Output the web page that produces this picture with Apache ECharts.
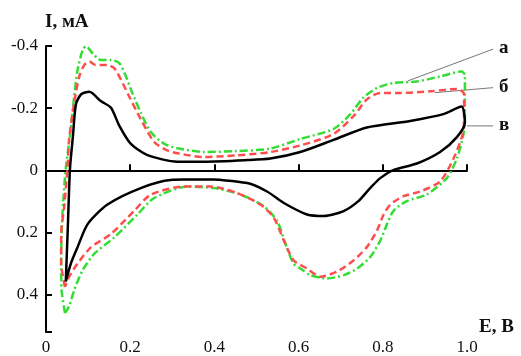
<!DOCTYPE html>
<html><head><meta charset="utf-8">
<script src="https://cdn.jsdelivr.net/npm/echarts@6/dist/echarts.min.js"></script>
<style>html,body{margin:0;padding:0;background:#fff}#c{width:521px;height:356px}</style>
</head><body><div id="c"></div><script>
// X tick labels and Y tick labels
var xTicks = [0, 0.2, 0.4, 0.6, 0.8, 1.0];
var yTicks = [-0.4, -0.2, 0, 0.2, 0.4];

// Curve "а" (green dash-dot)
var aE = [0.045,0.037,0.036,0.037,0.041,0.047,0.059,0.067,0.075,0.087,0.095,0.111,0.130,0.154,0.174,0.190,0.205,0.225,0.249,0.280,0.316,0.375,0.45,0.533,0.604,0.683,0.723,0.754,0.786,0.825,0.881,0.936,0.987,0.995,0.995,0.995,0.991,0.976,0.952,0.904,0.857,0.825,0.810,0.794,0.770,0.739,0.707,0.668,0.628,0.604,0.588,0.569,0.549,0.517,0.462,0.399,0.336,0.257,0.217,0.162,0.115,0.087,0.067,0.055,0.045];
var aI = [0.459,0.385,0.311,0.2,0.1,-0.006,-0.133,-0.239,-0.323,-0.387,-0.399,-0.376,-0.355,-0.355,-0.345,-0.302,-0.249,-0.186,-0.123,-0.086,-0.070,-0.059,-0.062,-0.070,-0.101,-0.133,-0.181,-0.234,-0.265,-0.281,-0.286,-0.302,-0.318,-0.307,-0.228,-0.165,-0.112,-0.038,0.025,0.078,0.099,0.131,0.173,0.226,0.279,0.316,0.337,0.348,0.337,0.316,0.300,0.237,0.163,0.115,0.078,0.057,0.052,0.089,0.142,0.216,0.268,0.321,0.385,0.437,0.459];

// Curve "б" (red dashed)
var bE = [0.045,0.036,0.036,0.043,0.051,0.055,0.067,0.079,0.091,0.103,0.118,0.146,0.162,0.178,0.197,0.225,0.257,0.288,0.316,0.375,0.45,0.533,0.604,0.683,0.731,0.762,0.794,0.841,0.920,0.976,0.993,0.993,0.991,0.968,0.936,0.889,0.849,0.818,0.802,0.786,0.762,0.731,0.691,0.652,0.620,0.588,0.565,0.541,0.509,0.454,0.391,0.328,0.249,0.209,0.154,0.107,0.075,0.055,0.045];
var bI = [0.375,0.300,0.205,0.120,-0.006,-0.101,-0.218,-0.302,-0.339,-0.350,-0.339,-0.339,-0.329,-0.292,-0.239,-0.165,-0.091,-0.064,-0.054,-0.043,-0.048,-0.059,-0.080,-0.117,-0.175,-0.228,-0.249,-0.249,-0.255,-0.262,-0.245,-0.175,-0.123,-0.038,0.036,0.068,0.083,0.110,0.142,0.194,0.247,0.289,0.326,0.342,0.316,0.289,0.226,0.152,0.110,0.073,0.052,0.052,0.078,0.131,0.205,0.247,0.300,0.342,0.375];

// Curve "в" (black solid)
var cE = [0.047,0.052,0.057,0.064,0.071,0.083,0.103,0.130,0.154,0.174,0.201,0.241,0.312,0.375,0.478,0.533,0.604,0.683,0.762,0.865,0.944,0.987,0.995,0.976,0.936,0.881,0.825,0.794,0.770,0.742,0.707,0.660,0.620,0.565,0.525,0.478,0.375,0.296,0.225,0.146,0.099,0.075,0.059,0.047];
var cI = [0.358,0.176,-0.006,-0.110,-0.212,-0.244,-0.253,-0.223,-0.202,-0.144,-0.086,-0.049,-0.028,-0.028,-0.033,-0.038,-0.059,-0.098,-0.138,-0.159,-0.181,-0.205,-0.154,-0.107,-0.059,-0.022,-0.001,0.025,0.057,0.099,0.131,0.147,0.142,0.105,0.068,0.041,0.029,0.031,0.057,0.110,0.173,0.247,0.300,0.358];

// Series labels and their leader lines (data coordinates)
var curveLabels = ['а', 'б', 'в'];
var leaderFrom = [[1.062, -0.390], [1.062, -0.266], [1.062, -0.143]];
var leaderTo = [[0.860, -0.288], [0.924, -0.250], [1.000, -0.143]];

function pairs(e, i) { return e.map(function (v, k) { return [v, i[k]]; }); }

var serif = '"Liberation Serif","Times New Roman",serif';
var chart = echarts.init(document.getElementById('c'), null, {renderer: 'canvas'});

chart.setOption({
  animation: false,
  backgroundColor: '#fff',
  grid: {left: 46, right: 54, top: 46, bottom: 19, containLabel: false},
  xAxis: {
    type: 'value', min: 0, max: 1.0, interval: 0.2,
    axisLine: {lineStyle: {color: '#000', width: 2}},
    axisTick: {inside: true, length: 6, lineStyle: {color: '#000', width: 2}},
    axisLabel: {
      color: '#111', fontFamily: serif, fontSize: 17, margin: 7,
      formatter: function (v) {
        var r = Math.round(v * 10) / 10;
        for (var k = 0; k < xTicks.length; k++) if (Math.abs(xTicks[k] - r) < 1e-6) return r === 1 ? '1.0' : String(r);
        return '';
      }
    },
    splitLine: {show: false}
  },
  yAxis: {
    type: 'value', inverse: true, min: -0.4, max: 0.52, interval: 0.2,
    axisLine: {lineStyle: {color: '#000', width: 2}},
    axisTick: {inside: true, length: 6, lineStyle: {color: '#000', width: 2}},
    axisLabel: {
      color: '#111', fontFamily: serif, fontSize: 17, margin: 8,
      formatter: function (v) {
        var r = Math.round(v * 10) / 10;
        if (Math.abs(v - r) > 1e-6) return '';
        for (var k = 0; k < yTicks.length; k++) if (Math.abs(yTicks[k] - r) < 1e-6) return String(r);
        return '';
      }
    },
    splitLine: {show: false}
  },
  series: [
    {type: 'line', name: 'а', data: pairs(aE, aI), showSymbol: false, smooth: 0.25,
     lineStyle: {color: '#33dd33', width: 2.5, type: [8, 3, 2, 3]}},
    {type: 'line', name: 'б', data: pairs(bE, bI), showSymbol: false, smooth: 0.25,
     lineStyle: {color: '#ff4d4d', width: 2.5, type: [7, 4]}},
    {type: 'line', name: 'в', data: pairs(cE, cI), showSymbol: false, smooth: 0.25,
     lineStyle: {color: '#000', width: 2.5, type: 'solid'}}
  ]
});

var g = [];
for (var k = 0; k < curveLabels.length; k++) {
  var p1 = chart.convertToPixel({gridIndex: 0}, leaderFrom[k]);
  var p2 = chart.convertToPixel({gridIndex: 0}, leaderTo[k]);
  g.push({type: 'line', shape: {x1: p1[0], y1: p1[1], x2: p2[0], y2: p2[1]}, style: {stroke: '#777', lineWidth: 1}});
  g.push({type: 'text', x: p1[0] + 6, y: p1[1] - 1, style: {text: curveLabels[k], font: 'bold 19px ' + serif, fill: '#111', align: 'left', verticalAlign: 'middle'}});
}
g.push({type: 'text', x: 45, y: 22, style: {text: 'I, мА', font: 'bold 19px ' + serif, fill: '#111', align: 'left', verticalAlign: 'middle'}});
g.push({type: 'text', x: 479, y: 327, style: {text: 'E, В', font: 'bold 19px ' + serif, fill: '#111', align: 'left', verticalAlign: 'middle'}});
chart.setOption({graphic: g});
</script></body></html>
